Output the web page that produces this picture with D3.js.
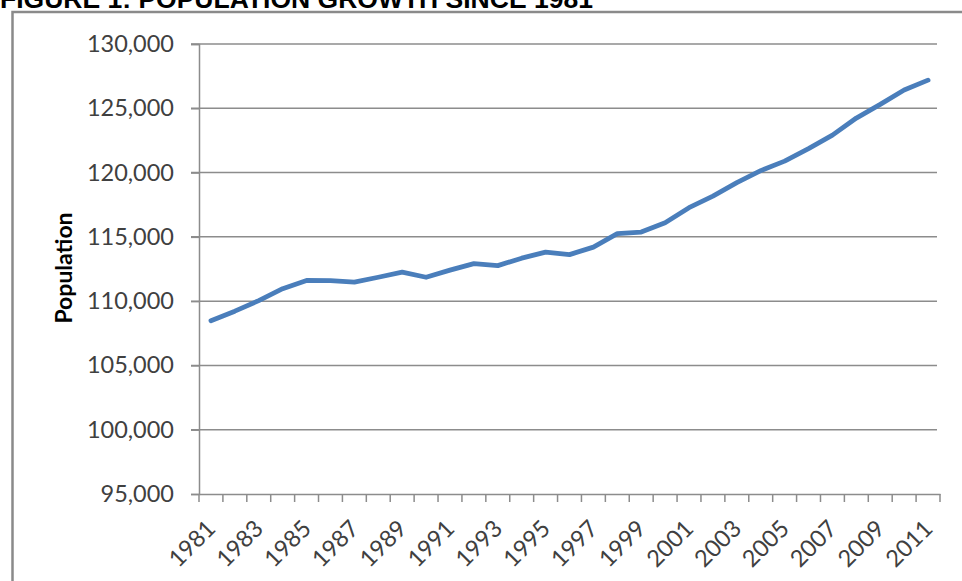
<!DOCTYPE html>
<html>
<head>
<meta charset="utf-8">
<script src="https://cdn.jsdelivr.net/npm/d3@7"></script>
<style>
  body { margin: 0; background: #fff; }
  svg { display: block; }
</style>
</head>
<body>
<div id="chart"></div>
<script>
const years = d3.range(1981, 2012).map(String);
const population = [
  108480, 109220, 110040, 110970, 111610, 111600, 111480, 111860, 112250, 111860,
  112410, 112920, 112760, 113340, 113810, 113620, 114200, 115250, 115370, 116100,
  117270, 118170, 119220, 120150, 120890, 121860, 122910, 124240, 125300, 126420,
  127190
];
const yTicks = [95000, 100000, 105000, 110000, 115000, 120000, 125000, 130000];
const xLabels = years.filter((d, i) => i % 2 === 0);

const w = 962, h = 581;
const svg = d3.select("#chart").append("svg")
  .attr("width", w).attr("height", h);

// title + frame
svg.append("text")
  .attr("x", 0).attr("y", 8)
  .attr("font-family", "Liberation Sans, Arial, sans-serif")
  .attr("font-weight", "bold")
  .attr("font-size", 26.5)
  .attr("fill", "#000")
  .text("FIGURE 1: POPULATION GROWTH SINCE 1981");

svg.append("rect")
  .attr("x", 12.5).attr("y", 12)
  .attr("width", 1000).attr("height", 600)
  .attr("fill", "#fff")
  .attr("stroke", "#8a8a8a").attr("stroke-width", 2.5);

const x = d3.scaleBand().domain(years).range([199, 940]);
const y = d3.scaleLinear().domain([95000, 130000]).range([494, 44]);

// gridlines
svg.append("g")
  .selectAll("line")
  .data(yTicks.slice(1))
  .join("line")
  .attr("x1", 191).attr("x2", 937)
  .attr("y1", d => y(d)).attr("y2", d => y(d))
  .attr("stroke", "#8c8c8c").attr("stroke-width", 1.5);

// y axis
const yAxis = svg.append("g")
  .attr("transform", "translate(199,0)")
  .call(d3.axisLeft(y).tickValues(yTicks).tickSize(8).tickPadding(17)
    .tickFormat(d3.format(",")));
yAxis.select(".domain").attr("stroke", "#8c8c8c").attr("stroke-width", 1.5);
yAxis.selectAll(".tick line").attr("stroke", "#8c8c8c").attr("stroke-width", 1.5);
yAxis.selectAll("text")
  .attr("font-family", "Lato, sans-serif")
  .attr("font-size", 23.5)
  .attr("fill", "#404040");

// x axis
const xAxis = svg.append("g")
  .attr("transform", "translate(0,494)")
  .call(d3.axisBottom(x).tickSize(0).tickFormat(""));
xAxis.select(".domain").attr("stroke", "#8c8c8c").attr("stroke-width", 1.5);
xAxis.append("g")
  .selectAll("line")
  .data(years.concat(["end"]))
  .join("line")
  .attr("x1", (d, i) => i < years.length ? x(d) : x.range()[1])
  .attr("x2", (d, i) => i < years.length ? x(d) : x.range()[1])
  .attr("y1", 0).attr("y2", 8)
  .attr("stroke", "#8c8c8c").attr("stroke-width", 1.5);

svg.append("g")
  .selectAll("text")
  .data(xLabels)
  .join("text")
  .attr("transform", d => `translate(${x(d) + x.bandwidth() / 2 + 6},530) rotate(-45)`)
  .attr("text-anchor", "end")
  .attr("font-family", "Lato, sans-serif")
  .attr("font-size", 23.5)
  .attr("fill", "#404040")
  .text(d => d);

// y label
svg.append("text")
  .attr("transform", "translate(72,268) rotate(-90)")
  .attr("text-anchor", "middle")
  .attr("font-family", "Lato, sans-serif")
  .attr("font-weight", "bold")
  .attr("font-size", 23)
  .attr("fill", "#000")
  .text("Population");

// line
const line = d3.line()
  .x((d, i) => x(years[i]) + x.bandwidth() / 2)
  .y(d => y(d));

svg.append("path")
  .datum(population)
  .attr("d", line)
  .attr("fill", "none")
  .attr("stroke", "#4a7ebb")
  .attr("stroke-width", 4.8)
  .attr("stroke-linejoin", "round")
  .attr("stroke-linecap", "round");
</script>
</body>
</html>
